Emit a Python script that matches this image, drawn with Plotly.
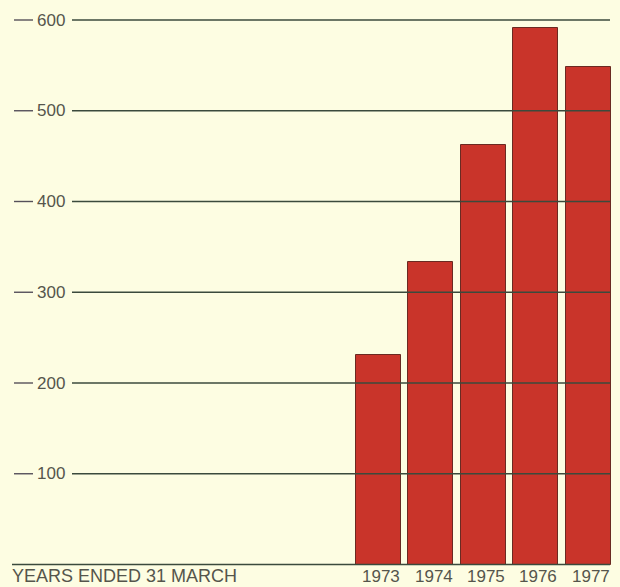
import plotly.graph_objects as go

# Values (years ended 31 March)
years = [1973, 1974, 1975, 1976, 1977]
values = [231, 333, 462, 591, 548]
grid_values = [100, 200, 300, 400, 500, 600]
year_labels = ["1973", "1974", "1975", "1976", "1977"]
axis_caption = "YEARS ENDED 31 MARCH"

W, H = 620, 587
bg = "#fdfde2"
bar_color = "#c9342a"
line_color = "#3b4a3c"
text_color = "#55554c"
font_family = "Liberation Sans, Arial, sans-serif"

fig = go.Figure()
fig.add_trace(go.Bar(
    x=years, y=values, width=0.86,
    marker=dict(color=bar_color, line=dict(color="#6a2a22", width=1)),
    hoverinfo="x+y",
))

shapes = []
annotations = []
# horizontal rules drawn over the bars, each with a short dash and value label
for v in grid_values:
    shapes.append(dict(type="line", xref="paper", yref="y",
                       x0=72 / W, x1=610 / W, y0=v, y1=v,
                       line=dict(color=line_color, width=1.4), layer="above"))
    shapes.append(dict(type="line", xref="paper", yref="y",
                       x0=14 / W, x1=33 / W, y0=v, y1=v,
                       line=dict(color="#55505a", width=1.4), layer="above"))
    annotations.append(dict(xref="paper", yref="y", x=35 / W, y=v,
                            text=str(v), showarrow=False, xanchor="left",
                            yanchor="middle",
                            font=dict(family=font_family, size=17, color=text_color)))
# baseline
shapes.append(dict(type="line", xref="paper", yref="y",
                   x0=12 / W, x1=610 / W, y0=0, y1=0,
                   line=dict(color=line_color, width=1.6), layer="above"))

label_y = -13  # just under the baseline
for yr, lab in zip(years, year_labels):
    annotations.append(dict(xref="x", yref="y", x=yr + 0.05, y=label_y,
                            text=lab, showarrow=False, xanchor="center",
                            yanchor="middle",
                            font=dict(family=font_family, size=17, color=text_color)))
annotations.append(dict(xref="paper", yref="y", x=10 / W, y=label_y,
                        text=axis_caption, showarrow=False, xanchor="left",
                        yanchor="middle",
                        font=dict(family=font_family, size=18, color=text_color)))

px_per_unit = 544.5 / 600
y_lo = -(H - 564.5) / px_per_unit
y_hi = 600 + 20 / px_per_unit
x_lo = 1973 - 378.5 / 52.4
x_hi = x_lo + W / 52.4

fig.update_layout(
    width=W, height=H, autosize=False,
    margin=dict(l=0, r=0, t=0, b=0),
    paper_bgcolor=bg, plot_bgcolor=bg,
    showlegend=False,
    xaxis=dict(range=[x_lo, x_hi], visible=False, fixedrange=True),
    yaxis=dict(range=[y_lo, y_hi], visible=False, fixedrange=True),
    shapes=shapes, annotations=annotations,
    bargap=0,
)

fig.write_html("out.html", config={"displayModeBar": False})
